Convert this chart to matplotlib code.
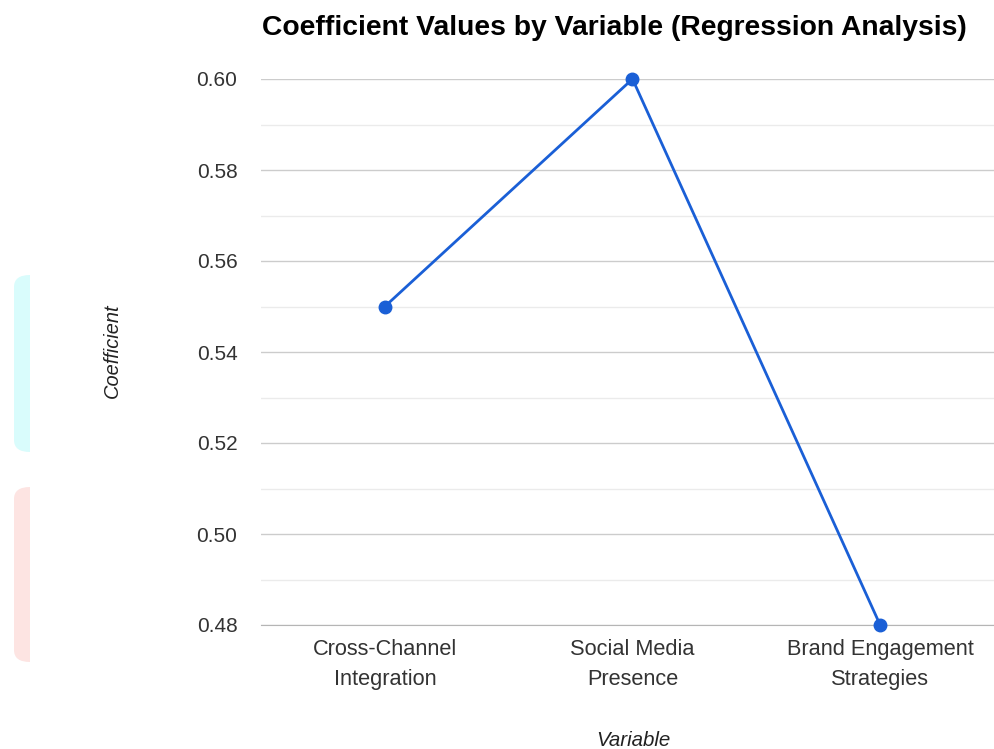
import matplotlib.pyplot as plt
from matplotlib.patches import FancyBboxPatch, Rectangle
from matplotlib.ticker import MultipleLocator

plt.rcParams['font.family'] = ['Liberation Sans', 'DejaVu Sans']

# data
variables = ["Cross-Channel\nIntegration", "Social Media\nPresence", "Brand Engagement\nStrategies"]
coefficients = [0.55, 0.60, 0.48]
y_ticks = [0.48, 0.50, 0.52, 0.54, 0.56, 0.58, 0.60]

W, H = 995, 749
fig = plt.figure(figsize=(W / 100, H / 100), dpi=100)
# plot area runs slightly past the right edge of the figure, as in the original
ax = fig.add_axes([261 / W, 1 - 625 / H, 743 / W, (625 - 79) / H])

x = list(range(len(variables)))
ax.plot(x, coefficients, color='#1a5fd6', linewidth=2.0, marker='o',
        markersize=9, clip_on=False, zorder=3)

ax.set_xlim(-0.5, len(variables) - 0.5)
ax.set_ylim(0.48, 0.60)
ax.set_yticks(y_ticks)
ax.set_yticklabels([f"{v:.2f}" for v in y_ticks])
ax.yaxis.set_minor_locator(MultipleLocator(0.01))
ax.set_xticks(x)
ax.set_xticklabels(variables, linespacing=1.55, fontsize=15.7)

ax.grid(True, axis='y', which='major', color='#cccccc', linewidth=1.0)
ax.grid(True, axis='y', which='minor', color='#ebebeb', linewidth=1.0)
ax.set_axisbelow(True)
for s in ['top', 'right', 'left']:
    ax.spines[s].set_visible(False)
ax.spines['bottom'].set_color('#b5b5b5')
ax.tick_params(axis='both', which='both', length=0, colors='#333333')
ax.tick_params(axis='y', pad=17, labelsize=15)
ax.tick_params(axis='x', pad=10)

fig.text(614 / W, 1 - 28 / H, "Coefficient Values by Variable (Regression Analysis)",
         ha='center', va='center', fontsize=20.3, fontweight='bold', color='#000000')
fig.text(112 / W, 1 - 351 / H, "Coefficient", rotation=90, ha='center', va='center',
         fontsize=14.4, style='italic', color='#222222')
fig.text(633 / W, 1 - 740 / H, "Variable", ha='center', va='center',
         fontsize=14.8, style='italic', color='#222222')

# pale side boxes at the left edge, rounded on the left, cut on the right
clip = Rectangle((0, 0), 30 / W, 1, transform=fig.transFigure)
for y0, y1, c in [(275, 452, '#d9fcfc'), (487, 662, '#fde4e2')]:
    box = FancyBboxPatch((14 / W, 1 - y1 / H), 40 / W, (y1 - y0) / H,
                         boxstyle="round,pad=0,rounding_size=0.016",
                         transform=fig.transFigure, facecolor=c, edgecolor='none')
    box.set_clip_path(clip)
    fig.patches.append(box)

fig.savefig("out.png", dpi=100)
